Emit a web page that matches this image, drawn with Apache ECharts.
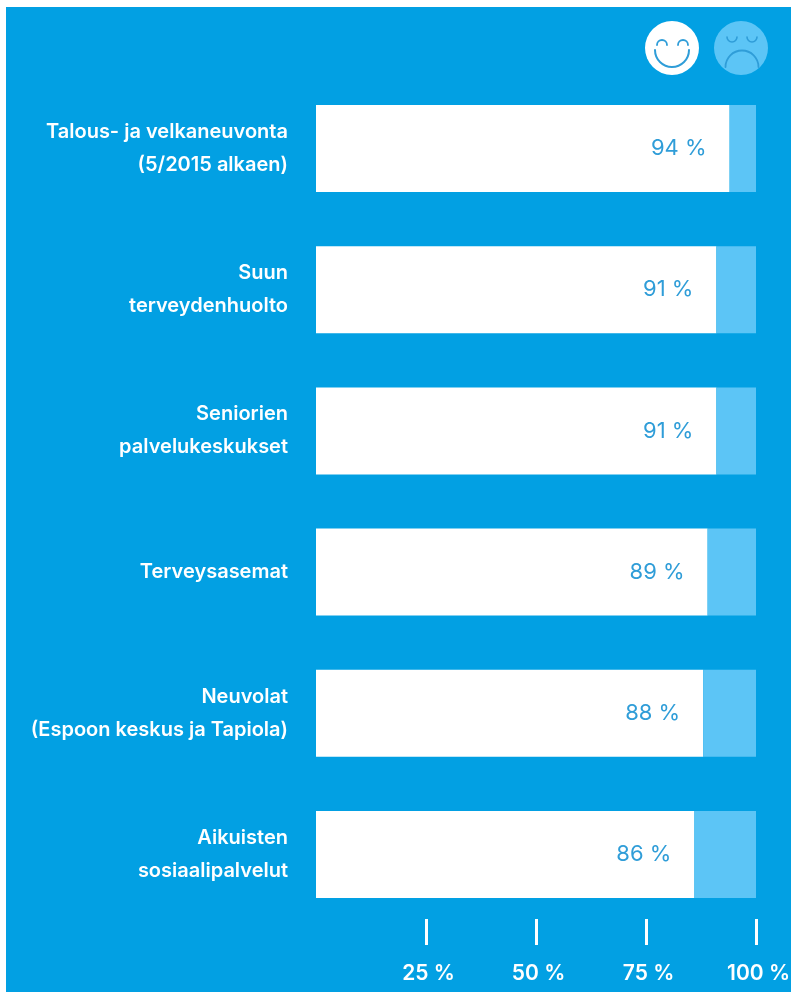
<!DOCTYPE html>
<html><head><meta charset="utf-8">
<style>html,body{margin:0;padding:0;background:#fff}#c{width:791px;height:992px}</style>
<script src="https://cdn.jsdelivr.net/npm/echarts@6/dist/echarts.min.js"></script>
</head><body><div id="c"></div>
<script>
const categories = ["Talous- ja velkaneuvonta\n(5/2015 alkaen)","Suun\nterveydenhuolto","Seniorien\npalvelukeskukset","Terveysasemat","Neuvolat\n(Espoon keskus ja Tapiola)","Aikuisten\nsosiaalipalvelut"];
const satisfied = [94,91,91,89,88,86];
const unsatisfied = [6,9,9,11,12,14];
const tickValues = [25,50,75,100];

const BLUE='#02a0e3', LIGHT='#5cc5f6', LINE='#2f9dd8', FONT='Inter, "Open Sans", sans-serif';
const arc=(cx,cy,r,a,b,color,w)=>({type:'arc',z:3,shape:{cx,cy,r,startAngle:a,endAngle:b,clockwise:true},style:{fill:null,stroke:color,lineWidth:w,lineCap:'round'}});
const PI=Math.PI;
const chart=echarts.init(document.getElementById('c'),null,{renderer:'canvas'});
chart.setOption({
  animation:false,
  backgroundColor:'#fff',
  grid:{left:316,right:35,top:77.9,bottom:66.9,containLabel:false,outerBoundsMode:'none'},
  graphic:[
    {type:'rect',z:-100,silent:true,shape:{x:6,y:7,width:785,height:985},style:{fill:BLUE}},
    {type:'circle',z:2,shape:{cx:672,cy:48,r:27},style:{fill:'#fff'}},
    arc(672,50,17,0,PI,LINE,2),
    arc(662,45,5,PI,2*PI,LINE,1.8),
    arc(683,45,5,PI,2*PI,LINE,1.8),
    {type:'circle',z:2,shape:{cx:741,cy:48,r:27},style:{fill:LIGHT}},
    arc(742,67,16.5,PI,2*PI,LINE,1.8),
    arc(732,37,5,0,PI,LINE,1.6),
    arc(752,37,5,0,PI,LINE,1.6)
  ],
  xAxis:{type:'value',min:0,max:100,offset:-6,
    splitLine:{show:false},axisLine:{show:false},
    axisTick:{show:true,customValues:tickValues,length:26,lineStyle:{color:'#fff',width:3}},
    axisLabel:{show:true,customValues:tickValues,formatter:'{value} %',color:'#fff',fontFamily:FONT,fontSize:21,fontWeight:600,margin:44,padding:[0,0,0,5],hideOverlap:false}},
  yAxis:{type:'category',inverse:true,data:categories,
    axisLine:{show:false},axisTick:{show:false},
    axisLabel:{color:'#fff',fontFamily:FONT,fontSize:20,fontWeight:600,lineHeight:33,align:'right',margin:28}},
  series:[
    {type:'bar',stack:'a',barWidth:87,data:satisfied,itemStyle:{color:'#fff'},
     label:{show:true,position:'insideRight',distance:23,formatter:'{c} %',color:LINE,fontFamily:FONT,fontSize:22,fontWeight:400}},
    {type:'bar',stack:'a',barWidth:87,data:unsatisfied,itemStyle:{color:LIGHT}}
  ]
});
</script></body></html>
